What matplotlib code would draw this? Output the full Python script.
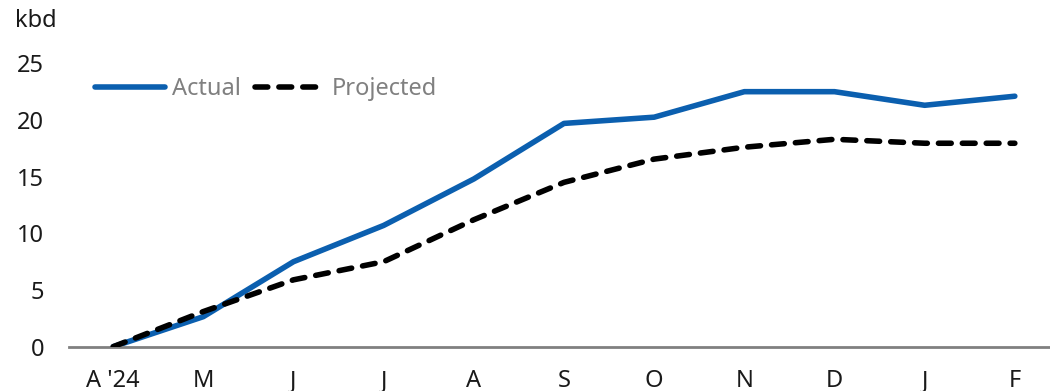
import matplotlib.pyplot as plt

months = ["A '24", "M", "J", "J", "A", "S", "O", "N", "D", "J", "F"]
actual = [0.0, 2.65, 7.5, 10.7, 14.8, 19.7, 20.25, 22.5, 22.5, 21.3, 22.1]
projected = [0.0, 3.1, 5.9, 7.5, 11.2, 14.5, 16.55, 17.6, 18.3, 17.95, 17.95]
y_ticks = [0, 5, 10, 15, 20, 25]

BLUE = "#0B5FAF"
GREY = "#808080"

plt.rcParams["font.family"] = ["Noto Sans", "DejaVu Sans"]

fig = plt.figure(figsize=(10.5, 3.91), dpi=100)
ax = fig.add_axes([0.0657, 0.1133, 0.9343, 0.7247])

x = list(range(len(months)))
ax.plot(x, actual, color=BLUE, lw=4, solid_capstyle="round", solid_joinstyle="round", label="Actual", zorder=2)
ax.plot(x, projected, color="black", lw=4, dashes=(2.3, 2.0), dash_capstyle="round",
        dash_joinstyle="round", label="Projected", zorder=3)

ax.set_xlim(-0.49, 10.39)
ax.set_ylim(0, 25)
ax.set_yticks(y_ticks)
ax.set_xticks(x)
ax.set_xticklabels(months)

for side in ["top", "right", "left"]:
    ax.spines[side].set_visible(False)
ax.spines["bottom"].set_color(GREY)
ax.spines["bottom"].set_linewidth(2)
ax.tick_params(axis="both", length=0, labelsize=17, colors="#1a1a1a")
ax.tick_params(axis="y", pad=18)
ax.tick_params(axis="x", pad=16)

leg = ax.legend(ncol=2, frameon=False, loc="center left",
                bbox_to_anchor=(95 / 1050, 1 - 89 / 391), bbox_transform=fig.transFigure,
                borderpad=0, borderaxespad=0, handlelength=2.95, handletextpad=0.3,
                columnspacing=0.6, fontsize=17)
for t in leg.get_texts():
    t.set_color(GREY)

fig.text(15 / 1050, 1 - 21 / 391, "kbd", fontsize=17, color="#1a1a1a", ha="left", va="center")

fig.savefig("out.png", dpi=100)
